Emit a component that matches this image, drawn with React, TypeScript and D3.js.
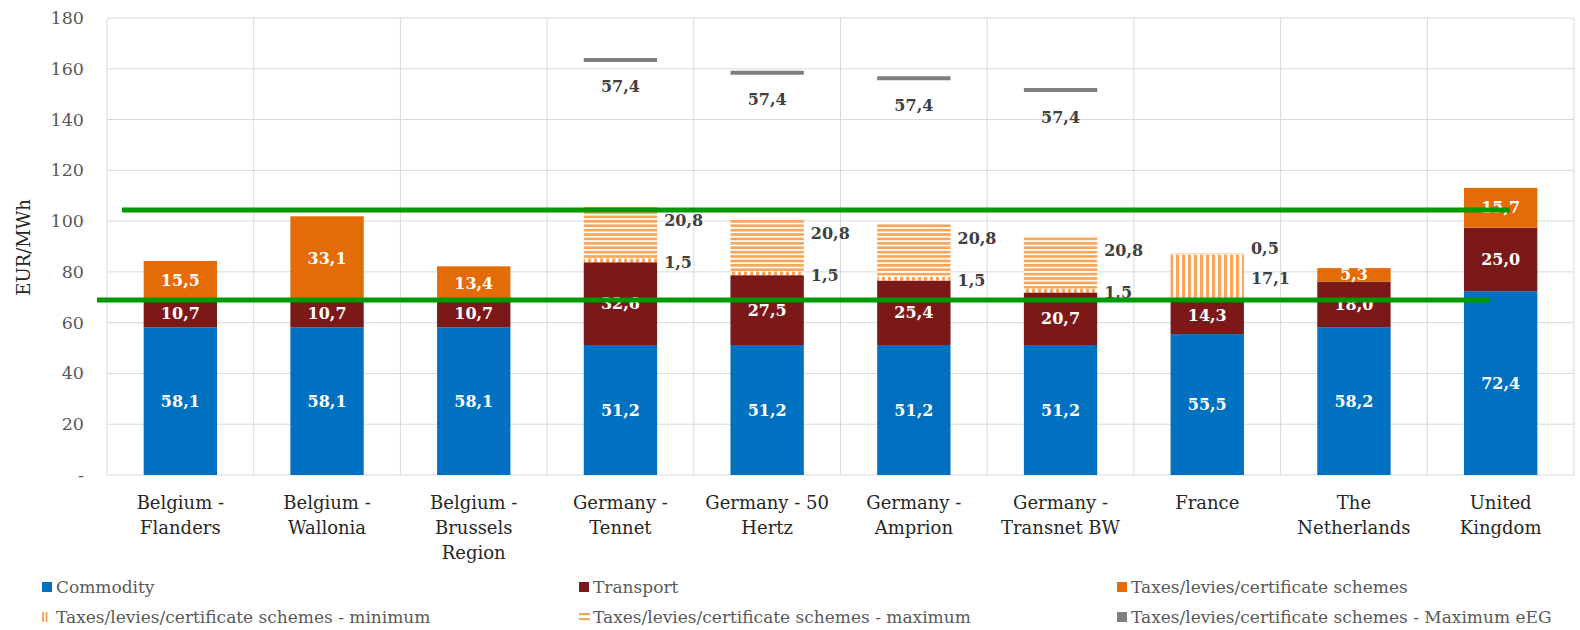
import React from "react";
import * as d3 from "d3";

// ---------- data ----------
const categories = [
  "Belgium - Flanders",
  "Belgium - Wallonia",
  "Belgium - Brussels Region",
  "Germany - Tennet",
  "Germany - 50 Hertz",
  "Germany - Amprion",
  "Germany - Transnet BW",
  "France",
  "The Netherlands",
  "United Kingdom",
];
const categoryLines = [
  ["Belgium -", "Flanders"],
  ["Belgium -", "Wallonia"],
  ["Belgium -", "Brussels", "Region"],
  ["Germany -", "Tennet"],
  ["Germany - 50", "Hertz"],
  ["Germany -", "Amprion"],
  ["Germany -", "Transnet BW"],
  ["France"],
  ["The", "Netherlands"],
  ["United", "Kingdom"],
];
const commodity = [58.1, 58.1, 58.1, 51.2, 51.2, 51.2, 51.2, 55.5, 58.2, 72.4];
const transport = [10.7, 10.7, 10.7, 32.6, 27.5, 25.4, 20.7, 14.3, 18.0, 25.0];
const taxes = [15.5, 33.1, 13.4, 0, 0, 0, 0, 0, 5.3, 15.7];
const taxesMin = [0, 0, 0, 1.5, 1.5, 1.5, 1.5, 17.1, 0, 0];
const taxesMax = [0, 0, 0, 20.8, 20.8, 20.8, 20.8, 0.5, 0, 0];
const taxesMaxEEG = [0, 0, 0, 57.4, 57.4, 57.4, 57.4, 0, 0, 0];
const yTicks = [0, 20, 40, 60, 80, 100, 120, 140, 160, 180];
const referenceValues = [104.4, 68.9];

const seriesKeys = ["commodity", "transport", "taxes", "taxesMin", "taxesMax", "taxesMaxEEG"];
const seriesNames = [
  "Commodity",
  "Transport",
  "Taxes/levies/certificate schemes",
  "Taxes/levies/certificate schemes - minimum",
  "Taxes/levies/certificate schemes - maximum",
  "Taxes/levies/certificate schemes - Maximum eEG",
];

// ---------- style ----------
const BLUE = "#0070c0";
const RED = "#7b1919";
const ORANGE = "#e36c09";
const LIGHT_ORANGE = "#f9a55c";
const GREY = "#7f7f7f";
const GREEN = "#009a00";
const FONT = "'DejaVu Serif', Georgia, serif";

const fills: Record<string, string> = {
  commodity: BLUE,
  transport: RED,
  taxes: ORANGE,
  taxesMin: "url(#pMin)",
  taxesMax: "url(#pMax)",
  taxesMaxEEG: GREY,
};

const fmt = (v: number) => v.toFixed(1).replace(".", ",");

export default function App() {
  const W = 1580;
  const H = 630;
  const left = 107;
  const right = 1574;
  const top = 18;
  const bottom = 475;

  const x = d3
    .scaleBand<string>()
    .domain(categories)
    .range([left, right])
    .paddingInner(0.5)
    .paddingOuter(0.25);
  const y = d3.scaleLinear().domain([0, 180]).range([bottom, top]);
  const step = x.step();
  const bw = x.bandwidth();

  const rows = categories.map((c, i) => ({
    cat: c,
    commodity: commodity[i],
    transport: transport[i],
    taxes: taxes[i],
    taxesMin: taxesMin[i],
    taxesMax: taxesMax[i],
    taxesMaxEEG: taxesMaxEEG[i],
  }));
  const stacked = d3.stack<any>().keys(seriesKeys)(rows);

  const refExtents = [
    [122, 1510],
    [97, 1490],
  ];

  const legendCols = [42, 579, 1117];
  const legendRows = [587, 617];

  return (
    <svg
      width={W}
      height={H}
      style={{ position: "absolute", left: 0, top: 0, background: "#fff" }}
      fontFamily={FONT}
    >
      <defs>
        <pattern id="pMax" patternUnits="userSpaceOnUse" width={8} height={4.4}>
          <rect width={8} height={4.4} fill="#fff" />
          <rect width={8} height={2.7} fill={LIGHT_ORANGE} />
        </pattern>
        <pattern id="pMin" patternUnits="userSpaceOnUse" width={6} height={8}>
          <rect width={6} height={8} fill="#fff" />
          <rect width={3.2} height={8} fill={LIGHT_ORANGE} />
        </pattern>
      </defs>
      <rect width={W} height={H} fill="#fff" />

      {/* horizontal grid */}
      {yTicks.map((t) => (
        <line key={"g" + t} x1={left} x2={right} y1={y(t)} y2={y(t)} stroke="#d9d9d9" strokeWidth={1} />
      ))}
      {/* vertical grid (category separators) */}
      {d3.range(categories.length + 1).map((k) => (
        <line
          key={"v" + k}
          x1={left + k * step}
          x2={left + k * step}
          y1={top}
          y2={bottom}
          stroke="#d9d9d9"
          strokeWidth={1}
        />
      ))}

      {/* y tick labels */}
      {yTicks.map((t) => (
        <text
          key={"yt" + t}
          x={84}
          y={y(t)}
          textAnchor="end"
          dominantBaseline="central"
          fontSize={17.5}
          fill="#595959"
        >
          {t === 0 ? "-" : t}
        </text>
      ))}
      <text
        transform={`translate(23,${(y(0) + y(180)) / 2 + 1}) rotate(-90)`}
        textAnchor="middle"
        dominantBaseline="central"
        fontSize={18}
        fill="#262626"
      >
        EUR/MWh
      </text>

      {/* bars */}
      {stacked.map((s) => (
        <g key={s.key}>
          {s.map((d: any, i: number) => {
            const v = d[1] - d[0];
            if (v <= 0) return null;
            const x0 = x(categories[i])!;
            if (s.key === "taxesMaxEEG") {
              return <line key={i} x1={x0} x2={x0 + bw} y1={y(d[1])} y2={y(d[1])} stroke={GREY} strokeWidth={4} />;
            }
            return (
              <rect
                key={i}
                x={x0}
                y={y(d[1])}
                width={bw}
                height={y(d[0]) - y(d[1])}
                fill={fills[s.key]}
              />
            );
          })}
        </g>
      ))}

      {/* labels */}
      {stacked.map((s) => (
        <g key={"l" + s.key}>
          {s.map((d: any, i: number) => {
            const v = d[1] - d[0];
            if (v <= 0) return null;
            const x0 = x(categories[i])!;
            const mid = (y(d[0]) + y(d[1])) / 2;
            if (s.key === "commodity" || s.key === "transport" || s.key === "taxes") {
              return (
                <text
                  key={i}
                  x={x0 + bw / 2}
                  y={mid}
                  textAnchor="middle"
                  dominantBaseline="central"
                  fontSize={16}
                  fontWeight="bold"
                  fill="#fff"
                >
                  {fmt(v)}
                </text>
              );
            }
            if (s.key === "taxesMaxEEG") {
              return (
                <text
                  key={i}
                  x={x0 + bw / 2}
                  y={y(d[1]) + 27}
                  textAnchor="middle"
                  dominantBaseline="central"
                  fontSize={16}
                  fontWeight="bold"
                  fill="#404040"
                >
                  {fmt(v)}
                </text>
              );
            }
            // outside-right labels for min / max
            let ly = mid + 2;
            if (s.key === "taxesMax") ly = v > 5 ? y(d[1]) + 15 : mid - 5;
            return (
              <text
                key={i}
                x={x0 + bw + 7}
                y={ly}
                textAnchor="start"
                dominantBaseline="central"
                fontSize={16}
                fontWeight="bold"
                fill="#404040"
              >
                {fmt(v)}
              </text>
            );
          })}
        </g>
      ))}

      {/* category labels */}
      {categories.map((c, i) => (
        <text
          key={"c" + i}
          x={x(c)! + bw / 2}
          y={502}
          textAnchor="middle"
          fontSize={18}
          fill="#262626"
        >
          {categoryLines[i].map((ln, j) => (
            <tspan key={j} x={x(c)! + bw / 2} y={502 + j * 25} dominantBaseline="central">
              {ln}
            </tspan>
          ))}
        </text>
      ))}

      {/* green reference lines */}
      {referenceValues.map((v, i) => (
        <line
          key={"r" + i}
          x1={refExtents[i][0]}
          x2={refExtents[i][1]}
          y1={y(v)}
          y2={y(v)}
          stroke={GREEN}
          strokeWidth={5}
        />
      ))}

      {/* legend */}
      {seriesKeys.map((k, i) => {
        const col = i < 3 ? i : i - 3;
        const row = i < 3 ? 0 : 1;
        const lx = legendCols[col];
        const ly = legendRows[row];
        return (
          <g key={"lg" + k}>
            {k === "taxesMin" ? (
              <g>
                <rect x={lx} y={ly - 5} width={2} height={10} fill={LIGHT_ORANGE} />
                <rect x={lx + 3.5} y={ly - 5} width={2} height={10} fill={LIGHT_ORANGE} />
              </g>
            ) : k === "taxesMax" ? (
              <g>
                <rect x={lx} y={ly - 4} width={11} height={2.2} fill={LIGHT_ORANGE} />
                <rect x={lx} y={ly + 1} width={11} height={2.2} fill={LIGHT_ORANGE} />
              </g>
            ) : (
              <rect x={lx} y={ly - 5} width={10} height={10} fill={fills[k]} />
            )}
            <text x={lx + 14} y={ly} dominantBaseline="central" fontSize={17} fill="#595959">
              {seriesNames[i]}
            </text>
          </g>
        );
      })}
    </svg>
  );
}
